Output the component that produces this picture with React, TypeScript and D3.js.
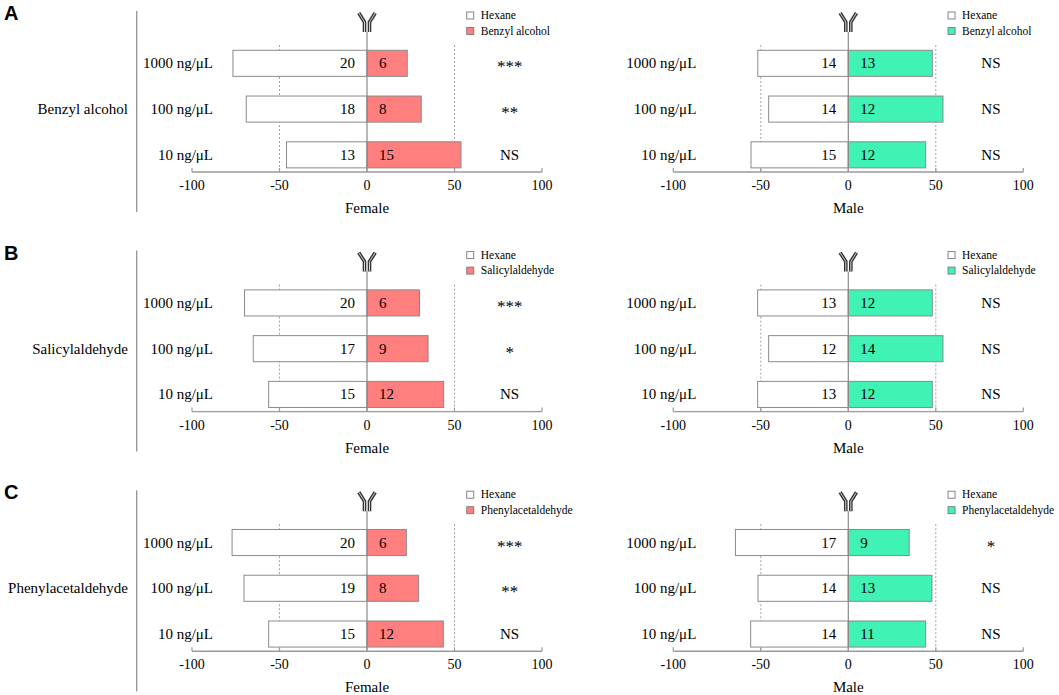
import React from "react";
import * as d3 from "d3";

// ---- data ----
const concentrations = ["1000 ng/μL", "100 ng/μL", "10 ng/μL"];
const compounds = ["Benzyl alcohol", "Salicylaldehyde", "Phenylacetaldehyde"];
const panelLetters = ["A", "B", "C"];
const sexes = ["Female", "Male"];
const controlName = "Hexane";
const xTicks = [-100, -50, 0, 50, 100];

// bar lengths (% of responders)
const femaleHexanePct = [[76.6, 69, 46], [70, 65, 56.2], [77.1, 70.3, 56.2]];
const femaleCompoundPct = [[23, 31, 53.7], [30, 34.9, 43.8], [22.5, 29.5, 43.6]];
const maleHexanePct = [[51.7, 45.5, 55.6], [51.8, 45.5, 51.8], [64.5, 51.6, 55.8]];
const maleCompoundPct = [[48, 54.1, 44.2], [48, 54.1, 48], [34.8, 47.8, 44.2]];

// counts printed on bars
const femaleHexaneN = [[20, 18, 13], [20, 17, 15], [20, 19, 15]];
const femaleCompoundN = [[6, 8, 15], [6, 9, 12], [6, 8, 12]];
const maleHexaneN = [[14, 14, 15], [13, 12, 13], [17, 14, 14]];
const maleCompoundN = [[13, 12, 12], [12, 14, 12], [9, 13, 11]];

// significance
const femaleSig = [["***", "**", "NS"], ["***", "*", "NS"], ["***", "**", "NS"]];
const maleSig = [["NS", "NS", "NS"], ["NS", "NS", "NS"], ["*", "NS", "NS"]];

const femaleColor = "#FF7F7F";
const maleColor = "#40F2B4";

// ---- layout ----
const W = 1059;
const H = 695;
const panelOffsets = [0, 239.6, 479.2];
const SERIF = "'Liberation Serif', 'Times New Roman', serif";
const SANS = "'Liberation Sans', Arial, sans-serif";

const xScales = [
  d3.scaleLinear().domain([-100, 100]).range([192, 542]),
  d3.scaleLinear().domain([-100, 100]).range([673.3, 1023.3]),
];
const yScale = d3
  .scaleBand<string>()
  .domain(concentrations)
  .range([40.45, 177.7])
  .paddingInner(0.43)
  .paddingOuter(0.215);

const AXIS_Y = 172;

function Antenna({ cx, top }: { cx: number; top: number }) {
  const left = `M${cx - 8.2},${top} L${cx - 2.5},${top + 9} L${cx - 2.5},${top + 19}`;
  const right = `M${cx + 8.2},${top} L${cx + 2.5},${top + 9} L${cx + 2.5},${top + 19}`;
  return (
    <g fill="none" strokeLinejoin="miter">
      <path d={left} stroke="#333" strokeWidth={3.6} />
      <path d={right} stroke="#333" strokeWidth={3.6} />
      <path d={left} stroke="#d0d0d0" strokeWidth={1} />
      <path d={right} stroke="#d0d0d0" strokeWidth={1} />
    </g>
  );
}

function SubChart({ row, sexIdx }: { row: number; sexIdx: number }) {
  const x = xScales[sexIdx];
  const hexPct = sexIdx === 0 ? femaleHexanePct[row] : maleHexanePct[row];
  const cmpPct = sexIdx === 0 ? femaleCompoundPct[row] : maleCompoundPct[row];
  const hexN = sexIdx === 0 ? femaleHexaneN[row] : maleHexaneN[row];
  const cmpN = sexIdx === 0 ? femaleCompoundN[row] : maleCompoundN[row];
  const sig = sexIdx === 0 ? femaleSig[row] : maleSig[row];
  const color = sexIdx === 0 ? femaleColor : maleColor;
  const x0 = x(0);
  const bw = yScale.bandwidth();
  const legendX = x(57);
  return (
    <g>
      {[-50, 50].map((v) => (
        <line
          key={v}
          x1={x(v)}
          x2={x(v)}
          y1={45}
          y2={AXIS_Y}
          stroke="#9a9a9a"
          strokeWidth={0.9}
          strokeDasharray="2,2"
        />
      ))}
      {concentrations.map((c, i) => {
        const y = yScale(c)!;
        const cy = y + bw / 2;
        return (
          <g key={c}>
            <rect
              x={x(-hexPct[i])}
              y={y}
              width={x0 - x(-hexPct[i])}
              height={bw}
              fill="#ffffff"
              stroke="#8a8a8a"
              strokeWidth={1}
            />
            <rect
              x={x0}
              y={y}
              width={x(cmpPct[i]) - x0}
              height={bw}
              fill={color}
              stroke="#8a8a8a"
              strokeWidth={1}
            />
            <text x={x0 - 12} y={cy + 5} textAnchor="end" fontFamily={SERIF} fontSize={15}>
              {hexN[i]}
            </text>
            <text x={x0 + 12} y={cy + 5} textAnchor="start" fontFamily={SERIF} fontSize={15}>
              {cmpN[i]}
            </text>
            <text
              x={x(-100) + (sexIdx === 0 ? 21 : 23)}
              y={cy + 5}
              textAnchor="end"
              fontFamily={SERIF}
              fontSize={15}
            >
              {c}
            </text>
            <text
              x={x(81.5)}
              y={cy + (sig[i] === "NS" ? 5 : 9)}
              textAnchor="middle"
              fontFamily={SERIF}
              fontSize={sig[i] === "NS" ? 15 : 17}
            >
              {sig[i]}
            </text>
          </g>
        );
      })}
      <line x1={x0} x2={x0} y1={32} y2={AXIS_Y} stroke="#8a8a8a" strokeWidth={1.2} />
      <Antenna cx={x0} top={13} />
      <line x1={x(-100)} x2={x(100)} y1={AXIS_Y} y2={AXIS_Y} stroke="#9a9a9a" strokeWidth={1.4} />
      {xTicks.map((t) => (
        <g key={t}>
          <line x1={x(t)} x2={x(t)} y1={AXIS_Y} y2={AXIS_Y - 4} stroke="#9a9a9a" strokeWidth={1.2} />
          <text x={x(t)} y={AXIS_Y + 18} textAnchor="middle" fontFamily={SERIF} fontSize={14}>
            {t}
          </text>
        </g>
      ))}
      <text x={x0} y={AXIS_Y + 41} textAnchor="middle" fontFamily={SERIF} fontSize={15}>
        {sexes[sexIdx]}
      </text>
      <rect x={legendX} y={12} width={7} height={7} fill="#fff" stroke="#777" strokeWidth={0.9} />
      <text x={legendX + 14} y={19} fontFamily={SERIF} fontSize={11.5}>
        {controlName}
      </text>
      <rect x={legendX} y={27.5} width={7} height={7} fill={color} stroke="#777" strokeWidth={0.9} />
      <text x={legendX + 14} y={34.5} fontFamily={SERIF} fontSize={11.5}>
        {compounds[row]}
      </text>
    </g>
  );
}

export default function App() {
  return (
    <svg
      width={W}
      height={H}
      viewBox={`0 0 ${W} ${H}`}
      style={{ position: "absolute", left: 0, top: 0, background: "#fff" }}
    >
      <rect x={0} y={0} width={W} height={H} fill="#fff" />
      {compounds.map((name, row) => (
        <g key={name} transform={`translate(0,${panelOffsets[row]})`}>
          <text x={4} y={20} fontFamily={SANS} fontWeight="bold" fontSize={20}>
            {panelLetters[row]}
          </text>
          <line x1={136.7} x2={136.7} y1={11} y2={212} stroke="#8a8a8a" strokeWidth={1.2} />
          <text
            x={128}
            y={yScale(concentrations[1])! + yScale.bandwidth() / 2 + 5}
            textAnchor="end"
            fontFamily={SERIF}
            fontSize={15}
          >
            {name}
          </text>
          <SubChart row={row} sexIdx={0} />
          <SubChart row={row} sexIdx={1} />
        </g>
      ))}
    </svg>
  );
}
